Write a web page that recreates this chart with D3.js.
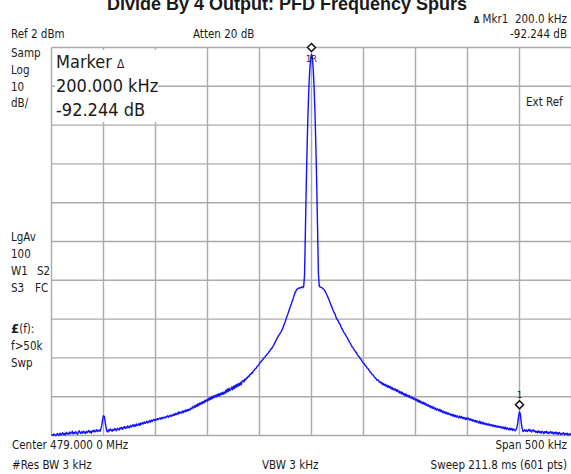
<!DOCTYPE html>
<html>
<head>
<meta charset="utf-8">
<script src="https://cdn.jsdelivr.net/npm/d3@7"></script>
<style>
  body { margin: 0; background: #fff; }
  svg { display: block; }
  text { font-family: "DejaVu Sans Condensed", "Liberation Sans Narrow", sans-serif; fill: #1a1a1a; }
</style>
</head>
<body>
<script>
// analyzer settings
const refDbm = 2, dbPerDiv = 10, vDivs = 10;
const spanKHz = 500, hDivs = 10;

// trace, 601 sweep points, dBm
const traceDbm = [
  -98.0,-97.8,-98.0,-97.6,-97.9,-98.0,-97.7,-97.5,-98.0,-97.8,-97.4,-97.9,-97.6,-97.3,-97.8,-97.5,-97.9,-97.2,-97.6,-97.4,
  -97.7,-97.1,-97.5,-97.3,-96.9,-97.6,-97.2,-97.5,-97.0,-97.4,-97.7,-97.1,-96.8,-97.3,-97.5,-97.0,-97.4,-96.9,-97.2,-97.5,
  -96.9,-97.3,-97.0,-96.7,-97.2,-96.9,-97.4,-96.8,-97.0,-96.6,-97.1,-96.9,-96.5,-97.0,-96.8,-96.6,-96.9,-96.3,-95.4,-93.8,
  -92.9,-93.1,-94.6,-96.0,-96.9,-97.1,-96.5,-96.8,-96.3,-96.6,-96.9,-96.4,-96.7,-96.2,-96.5,-96.8,-96.1,-96.4,-96.6,-96.0,
  -96.3,-95.9,-96.4,-96.0,-95.7,-96.2,-95.8,-96.1,-95.5,-95.9,-96.0,-95.4,-95.8,-95.6,-95.2,-95.7,-95.3,-95.6,-95.0,-95.4,
  -95.3,-94.9,-95.4,-94.8,-95.1,-94.7,-95.0,-94.5,-94.9,-94.6,-94.3,-94.8,-94.5,-94.2,-94.6,-94.0,-94.4,-94.1,-93.8,-94.2,
  -93.9,-94.0,-93.6,-93.9,-93.7,-93.5,-93.8,-93.4,-93.6,-93.3,-93.5,-93.2,-93.4,-93.1,-92.9,-93.3,-93.0,-92.8,-93.1,-92.7,
  -92.9,-92.5,-92.8,-92.3,-92.6,-92.2,-92.5,-91.9,-92.3,-92.0,-92.2,-91.7,-92.1,-91.6,-91.9,-91.4,-91.8,-91.3,-91.6,-91.2,
  -91.4,-90.9,-91.1,-90.6,-90.9,-90.3,-90.7,-90.1,-90.5,-89.8,-90.3,-89.6,-90.0,-89.4,-89.8,-89.2,-89.6,-88.9,-89.3,-88.8,
  -89.1,-88.4,-88.9,-88.2,-88.7,-87.9,-88.5,-87.8,-88.2,-87.6,-88.1,-87.4,-87.9,-87.2,-87.8,-87.1,-87.5,-86.9,-87.4,-86.8,
  -87.2,-86.3,-86.9,-86.0,-86.7,-85.8,-86.4,-86.1,-85.5,-86.2,-85.3,-85.9,-85.0,-85.6,-84.8,-85.4,-84.6,-85.1,-84.3,-84.9,
  -84.0,-83.8,-84.2,-83.5,-83.7,-83.1,-83.2,-82.7,-82.8,-82.2,-82.3,-81.8,-81.9,-81.3,-81.2,-80.8,-80.7,-80.3,-80.1,-79.8,
  -79.5,-79.1,-78.9,-78.6,-78.4,-78.0,-77.9,-77.5,-77.3,-77.0,-76.8,-76.4,-76.2,-75.8,-75.6,-75.2,-74.9,-74.4,-74.0,-73.5,
  -73.1,-72.6,-72.3,-71.9,-71.6,-71.2,-70.8,-70.3,-69.6,-69.1,-68.4,-67.8,-67.1,-66.5,-65.8,-65.2,-64.5,-63.9,-63.2,-62.6,
  -61.9,-61.2,-60.8,-60.4,-60.2,-60.1,-59.9,-60.0,-59.8,-59.7,-59.9,-59.6,-56.5,-44.9,-33.0,-23.1,-14.8,-8.3,-3.7,-0.9,
  0.2,-0.8,-3.6,-8.2,-14.7,-23.0,-32.9,-44.8,-56.4,-59.6,-59.7,-59.8,-59.9,-60.1,-60.3,-60.6,-61.0,-61.4,-61.9,-62.4,
  -62.9,-63.5,-64.1,-64.6,-65.2,-65.8,-66.3,-66.6,-67.3,-67.9,-68.2,-68.6,-69.1,-69.3,-69.9,-70.4,-70.8,-71.3,-71.6,-71.9,
  -72.4,-72.7,-73.2,-73.5,-74.0,-74.3,-74.8,-75.2,-75.4,-75.9,-76.1,-76.5,-76.7,-77.2,-77.5,-77.7,-78.1,-78.3,-78.8,-79.0,
  -79.4,-79.5,-80.0,-80.1,-80.6,-80.7,-81.1,-81.3,-81.8,-81.9,-82.3,-82.4,-82.7,-83.1,-83.2,-83.6,-83.8,-83.7,-84.2,-84.1,
  -84.5,-84.3,-84.9,-84.6,-85.1,-84.8,-85.3,-85.0,-85.6,-85.2,-85.7,-85.4,-86.0,-85.6,-86.2,-85.9,-86.3,-86.0,-86.6,-86.2,
  -86.8,-86.5,-87.1,-86.7,-87.3,-86.9,-87.5,-87.2,-87.8,-87.3,-87.9,-87.6,-88.1,-87.7,-88.3,-88.0,-88.5,-88.2,-88.7,-88.4,
  -88.9,-88.6,-89.2,-88.8,-89.4,-89.0,-89.6,-89.3,-89.8,-89.4,-90.0,-89.6,-90.2,-89.9,-90.4,-90.1,-90.6,-90.3,-90.9,-90.5,
  -91.0,-90.7,-91.2,-90.9,-91.5,-91.1,-91.3,-91.7,-91.2,-91.8,-91.5,-92.1,-91.7,-92.2,-91.9,-92.4,-92.0,-92.5,-92.2,-92.6,
  -92.4,-92.8,-92.5,-93.0,-92.6,-93.1,-92.8,-93.3,-92.9,-93.2,-93.5,-93.0,-93.4,-93.1,-93.6,-93.3,-93.7,-93.4,-93.9,-93.5,
  -93.8,-93.5,-94.0,-93.7,-94.1,-93.8,-94.3,-94.0,-94.4,-94.1,-94.6,-94.2,-94.5,-94.8,-94.3,-94.9,-94.5,-95.0,-94.6,-95.1,
  -94.8,-95.2,-94.9,-95.3,-95.0,-95.4,-95.1,-95.5,-95.2,-95.6,-95.3,-95.7,-95.4,-95.8,-95.5,-95.9,-95.6,-95.9,-95.7,-96.1,
  -95.8,-96.2,-95.8,-96.3,-95.9,-96.4,-96.0,-96.3,-96.6,-96.1,-96.5,-96.2,-96.7,-96.3,-96.5,-96.8,-96.4,-95.9,-94.8,-93.0,
  -91.9,-92.5,-94.6,-96.1,-97.0,-96.8,-96.5,-96.9,-96.6,-97.0,-96.7,-96.4,-96.9,-96.6,-97.1,-96.7,-96.5,-97.0,-96.8,-97.2,
  -96.9,-97.3,-96.8,-97.2,-97.0,-97.4,-96.9,-97.1,-97.5,-97.0,-97.3,-96.9,-97.4,-97.1,-97.5,-97.2,-97.0,-97.4,-97.1,-97.6,
  -97.2,-97.5,-97.1,-97.6,-97.3,-97.7,-97.2,-97.5,-97.8,-97.4,-97.6,-97.3,-97.8,-97.5,-97.7,-97.4,-97.9,-97.6,-97.8,-97.5,
  -97.7
];

// markers: offset from center in kHz
const markerKHz = [0, 200];
const markerLabels = ['1R', '1'];

// annotation texts
const title = 'Divide By 4 Output: PFD Frequency Spurs';
const leftNotes = [['Samp', 11, 57], ['Log', 11, 74], ['10', 11, 91], ['dB/', 11, 107],
                   ['LgAv', 11, 241], ['100', 11, 258], ['W1', 11, 275], ['S2', 37, 275],
                   ['S3', 11, 292], ['FC', 35, 292], ['f>50k', 11, 350], ['Swp', 11, 367]];

const W = 571, H = 474;
const svg = d3.select('body').append('svg')
    .attr('width', W).attr('height', H);

const x = d3.scaleLinear()
    .domain([-spanKHz / 2, spanKHz / 2])
    .range([51.5, 571.5]);

const y = d3.scaleLinear()
    .domain([refDbm, refDbm - dbPerDiv * vDivs])
    .range([47.5, 435.5])
    .clamp(true);

// graticule
const gx = d3.range(hDivs + 1).map(i => -spanKHz / 2 + i * spanKHz / hDivs);
const gy = d3.range(vDivs + 1).map(i => refDbm - i * dbPerDiv);

svg.append('g').selectAll('line.v').data(gx).join('line')
    .attr('x1', d => x(d)).attr('x2', d => x(d))
    .attr('y1', y.range()[0]).attr('y2', y.range()[1])
    .attr('stroke', '#ababab').attr('stroke-width', 1.4);

svg.append('g').selectAll('line.h').data(gy).join('line')
    .attr('x1', x.range()[0]).attr('x2', x.range()[1])
    .attr('y1', d => y(d)).attr('y2', d => y(d))
    .attr('stroke', '#ababab').attr('stroke-width', 1.4);

// trace
const nPts = traceDbm.length;
const fOf = i => -spanKHz / 2 + i * spanKHz / (nPts - 1);
const line = d3.line()
    .x((d, i) => x(fOf(i)))
    .y(d => y(d));

svg.append('path')
    .datum(traceDbm)
    .attr('d', line)
    .attr('fill', 'none')
    .attr('stroke', '#1212ff')
    .attr('stroke-width', 1.4)
    .attr('stroke-linejoin', 'round');

// markers
markerKHz.forEach((k, j) => {
  const idx = Math.round((k + spanKHz / 2) * (nPts - 1) / spanKHz);
  const mx = x(fOf(idx)), my = y(traceDbm[idx]) - 7;
  svg.append('path')
      .attr('d', `M${mx},${my - 4}L${mx + 4},${my}L${mx},${my + 4}L${mx - 4},${my}Z`)
      .attr('fill', '#fff').attr('stroke', '#111').attr('stroke-width', 1.5);
  const below = j === 0;
  svg.append('text')
      .attr('x', mx).attr('y', below ? my + 15 : my - 7)
      .attr('text-anchor', 'middle')
      .style('font-size', '9px')
      .text(markerLabels[j]);
});

// marker readout box
svg.append('rect')
    .attr('x', 55).attr('y', 50).attr('width', 103).attr('height', 72)
    .attr('fill', '#fff');
const big = [['Marker ', 68], ['200.000 kHz', 92], ['-92.244 dB', 116]];
big.forEach(([t, yy], i) => {
  const tx = svg.append('text').attr('x', 56).attr('y', yy)
      .style('font-size', '18px').text(t);
  if (i === 0) tx.append('tspan').style('font-size', '12px').text('Δ');
});

// title (cut off by the top edge, as in the original screenshot)
svg.append('text')
    .attr('x', 287).attr('y', 10)
    .attr('text-anchor', 'middle')
    .style('font-family', '"Liberation Sans", Arial, sans-serif')
    .style('font-weight', 'bold')
    .style('font-size', '18px')
    .text(title);

const small = (t, tx, ty, anchor) => svg.append('text')
    .attr('x', tx).attr('y', ty)
    .attr('text-anchor', anchor || 'start')
    .style('font-size', '11.5px')
    .text(t);

const mk = small('', 567, 23, 'end');
mk.append('tspan').style('font-size', '8px').style('font-weight', 'bold').text('Δ');
mk.append('tspan').text(' Mkr1\u00a0\u00a0200.0 kHz');

small('Ref 2 dBm', 11, 38);
small('Atten 20 dB', 193, 38);
small('-92.244 dB', 567, 38, 'end');
small('Ext Ref', 526, 106);

leftNotes.forEach(([t, tx, ty]) => small(t, tx, ty));
const lf = small('', 11, 333);
lf.append('tspan').style('font-weight', 'bold').style('font-size', '13px').text('£');
lf.append('tspan').text('(f):');

small('Center 479.000 0 MHz', 12, 449);
small('Span 500 kHz', 567, 449, 'end');
small('#Res BW 3 kHz', 12, 469);
small('VBW 3 kHz', 262, 469);
small('Sweep 211.8 ms (601 pts)', 567, 469, 'end');
</script>
</body>
</html>
